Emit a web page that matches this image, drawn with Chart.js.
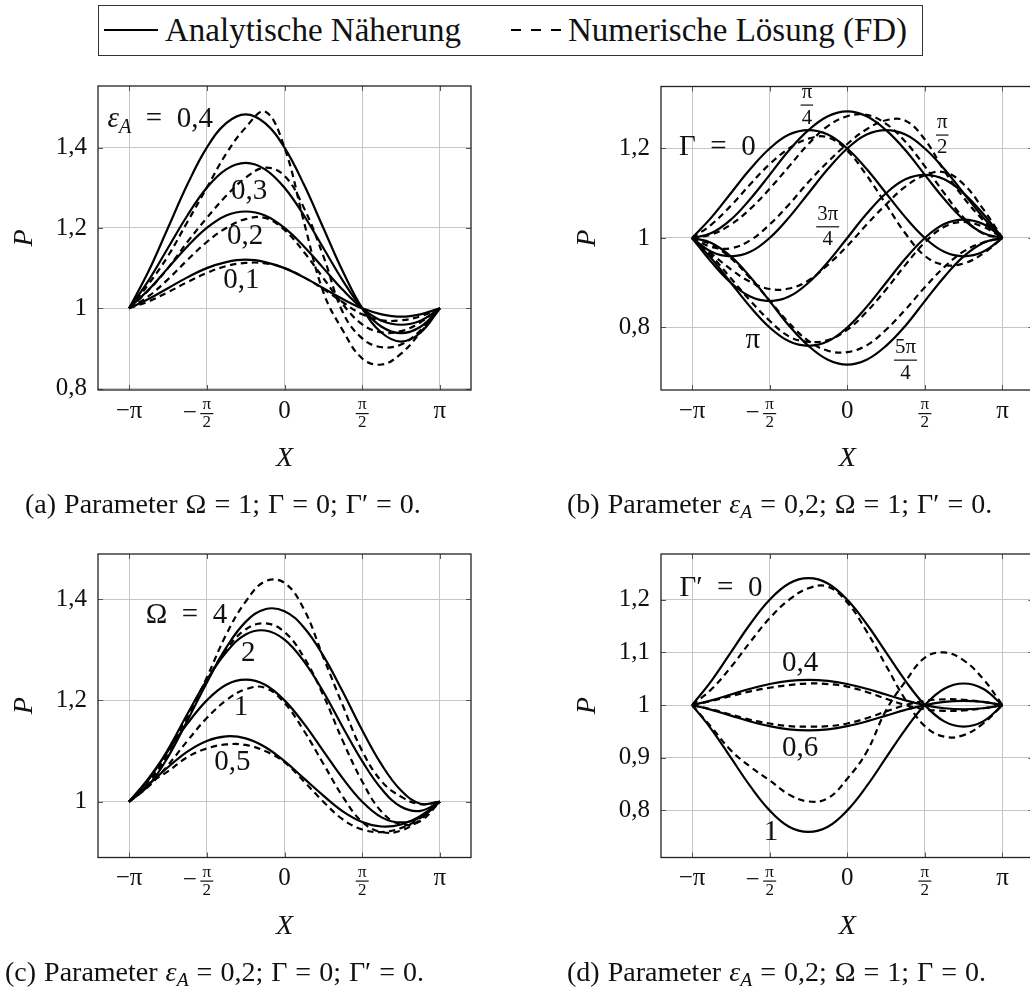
<!DOCTYPE html>
<html><head><meta charset="utf-8">
<title>Druckverteilung P(X)</title>
<script src="https://cdn.jsdelivr.net/npm/chart.js@4.4.1/dist/chart.umd.min.js"></script>
<style>
html,body{margin:0;padding:0;background:#fff;}
#page{position:relative;width:1030px;height:992px;overflow:hidden;font-family:"Liberation Serif","DejaVu Serif",serif;color:#111;}
canvas{position:absolute;}
#legend{position:absolute;left:98px;top:5px;width:825px;height:51px;box-sizing:border-box;border:1.6px solid #333;font-size:33px;white-space:nowrap;}
#legend .it{position:absolute;top:0;height:48px;line-height:48px;}
.smp{position:absolute;top:23px;height:2.4px;}
.cap{position:absolute;font-size:28px;white-space:nowrap;line-height:28px;word-spacing:1px;}
.cap i{font-style:italic;}
.cap sub{font-size:0.7em;vertical-align:-0.25em;line-height:0;}
</style></head>
<body>
<div id="page">
  <div id="legend">
    <div class="smp" style="left:5px;width:54px;background:#000;"></div>
    <div class="it" style="left:66px;">Analytische Näherung</div>
    <div class="smp" style="left:412px;width:50px;background:repeating-linear-gradient(90deg,#000 0 10px,transparent 10px 20px);"></div>
    <div class="it" style="left:469px;">Numerische Lösung (FD)</div>
  </div>
  <canvas id="ca" width="500" height="430" style="left:0px;top:60px;"></canvas>
  <canvas id="cb" width="520" height="430" style="left:540px;top:60px;"></canvas>
  <canvas id="cc" width="500" height="430" style="left:0px;top:528px;"></canvas>
  <canvas id="cd" width="520" height="430" style="left:540px;top:528px;"></canvas>
  <div class="cap" style="left:25px;top:490px;">(a) Parameter Ω = 1; Γ = 0; Γ′ = 0.</div>
  <div class="cap" style="left:567px;top:490px;">(b) Parameter <i>ε</i><sub><i>A</i></sub> = 0,2; Ω = 1; Γ′ = 0.</div>
  <div class="cap" style="left:5px;top:958px;">(c) Parameter <i>ε</i><sub><i>A</i></sub> = 0,2; Γ = 0; Γ′ = 0.</div>
  <div class="cap" style="left:567px;top:958px;">(d) Parameter <i>ε</i><sub><i>A</i></sub> = 0,2; Ω = 1; Γ = 0.</div>
</div>
<script>
// ---------- data (X in units of pi) ----------
const X_PI = [-1, -0.875, -0.75, -0.625, -0.5, -0.375, -0.25, -0.125, 0, 0.125, 0.25, 0.375, 0.5, 0.625, 0.75, 0.875, 1];
const X_TICKS_PI = [-1, -0.5, 0, 0.5, 1];
const X_TICK_LABELS = ['−π', ['π', '2'], '0', ['π', '2'], 'π'];

// (a) eps_A = 0.1 .. 0.4
const aSolid01 = [1, 1.023, 1.05, 1.077, 1.1, 1.115, 1.121, 1.115, 1.1, 1.077, 1.05, 1.023, 1, 0.985, 0.979, 0.985, 1];
const aSolid02 = [1, 1.046, 1.1, 1.154, 1.2, 1.231, 1.241, 1.231, 1.2, 1.154, 1.1, 1.046, 1, 0.969, 0.959, 0.969, 1];
const aSolid03 = [1, 1.069, 1.15, 1.231, 1.3, 1.346, 1.362, 1.346, 1.3, 1.231, 1.15, 1.069, 1, 0.954, 0.938, 0.954, 1];
const aSolid04 = [1, 1.092, 1.2, 1.308, 1.4, 1.461, 1.483, 1.461, 1.4, 1.308, 1.2, 1.092, 1, 0.939, 0.917, 0.939, 1];
const aDash01 = [1, 1.017, 1.04, 1.065, 1.088, 1.105, 1.113, 1.112, 1.1, 1.077, 1.048, 1.015, 0.985, 0.97, 0.97, 0.98, 1];
const aDash02 = [1, 1.03, 1.072, 1.12, 1.165, 1.2, 1.222, 1.225, 1.195, 1.14, 1.075, 1.01, 0.96, 0.94, 0.943, 0.965, 1];
const aDash03 = [1, 1.045, 1.1, 1.165, 1.225, 1.28, 1.325, 1.35, 1.33, 1.25, 1.13, 0.99, 0.925, 0.903, 0.91, 0.945, 1];
const aDash04 = [1, 1.06, 1.13, 1.215, 1.3, 1.385, 1.45, 1.49, 1.4, 1.215, 1.04, 0.945, 0.875, 0.86, 0.887, 0.94, 1];

// (b) Gamma = 0, pi/4, pi/2, 3pi/4, pi, 5pi/4
const bSolidG0 = [1, 1.046, 1.1, 1.154, 1.2, 1.231, 1.241, 1.231, 1.2, 1.154, 1.1, 1.046, 1, 0.969, 0.959, 0.969, 1];
const bSolidG1 = [1, 1.011, 1.041, 1.087, 1.141, 1.196, 1.241, 1.272, 1.283, 1.272, 1.241, 1.196, 1.141, 1.087, 1.041, 1.011, 1];
const bSolidG2 = [1, 0.969, 0.959, 0.969, 1, 1.046, 1.1, 1.154, 1.2, 1.231, 1.241, 1.231, 1.2, 1.154, 1.1, 1.046, 1];
const bSolidG3 = [1, 0.946, 0.9, 0.869, 0.859, 0.869, 0.9, 0.946, 1, 1.054, 1.1, 1.131, 1.141, 1.131, 1.1, 1.054, 1];
const bSolidG4 = [1, 0.954, 0.9, 0.846, 0.8, 0.769, 0.759, 0.769, 0.8, 0.846, 0.9, 0.954, 1, 1.031, 1.041, 1.031, 1];
const bSolidG5 = [1, 0.989, 0.959, 0.913, 0.859, 0.804, 0.759, 0.728, 0.717, 0.728, 0.759, 0.804, 0.859, 0.913, 0.959, 0.989, 1];
const bDashG0 = [1, 1.03, 1.072, 1.12, 1.165, 1.2, 1.222, 1.225, 1.195, 1.14, 1.075, 1.01, 0.96, 0.94, 0.943, 0.965, 1];
const bDashG1 = [1, 1.008, 1.03, 1.065, 1.11, 1.16, 1.21, 1.25, 1.272, 1.275, 1.255, 1.215, 1.16, 1.1, 1.045, 1.01, 1];
const bDashG2 = [1, 0.98, 0.977, 0.995, 1.03, 1.075, 1.125, 1.17, 1.21, 1.243, 1.263, 1.262, 1.22, 1.15, 1.09, 1.04, 1];
const bDashG3 = [1, 0.965, 0.93, 0.902, 0.886, 0.887, 0.905, 0.94, 0.982, 1.03, 1.075, 1.115, 1.14, 1.147, 1.12, 1.065, 1];
const bDashG4 = [1, 0.96, 0.91, 0.86, 0.815, 0.78, 0.768, 0.772, 0.795, 0.835, 0.885, 0.94, 0.99, 1.025, 1.036, 1.025, 1];
const bDashG5 = [1, 0.985, 0.955, 0.91, 0.86, 0.81, 0.77, 0.748, 0.745, 0.76, 0.795, 0.84, 0.89, 0.935, 0.97, 0.99, 1];

// (c) Omega = 0.5, 1, 2, 4
const cSolidW05 = [1, 1.034, 1.068, 1.099, 1.12, 1.129, 1.125, 1.108, 1.08, 1.046, 1.012, 0.981, 0.96, 0.951, 0.955, 0.972, 1];
const cSolidW1 = [1, 1.046, 1.1, 1.154, 1.2, 1.231, 1.241, 1.231, 1.2, 1.154, 1.1, 1.046, 1, 0.969, 0.959, 0.969, 1];
const cSolidW2 = [1, 1.043, 1.103, 1.173, 1.24, 1.295, 1.33, 1.338, 1.32, 1.277, 1.217, 1.147, 1.08, 1.025, 0.99, 0.982, 1];
const cSolidW4 = [1, 1.032, 1.088, 1.16, 1.235, 1.304, 1.355, 1.38, 1.376, 1.344, 1.288, 1.217, 1.141, 1.073, 1.022, 0.996, 1];
const cDashW05 = [1, 1.035, 1.06, 1.088, 1.105, 1.113, 1.112, 1.1, 1.078, 1.04, 1.0, 0.965, 0.945, 0.94, 0.948, 0.968, 1];
const cDashW1 = [1, 1.03, 1.072, 1.12, 1.165, 1.2, 1.222, 1.225, 1.195, 1.14, 1.075, 1.01, 0.96, 0.94, 0.943, 0.965, 1];
const cDashW2 = [1, 1.04, 1.1, 1.17, 1.24, 1.3, 1.34, 1.352, 1.335, 1.285, 1.21, 1.12, 1.04, 0.98, 0.955, 0.962, 1];
const cDashW4 = [1, 1.035, 1.095, 1.165, 1.245, 1.33, 1.395, 1.435, 1.432, 1.38, 1.285, 1.19, 1.1, 1.04, 1.01, 0.995, 1];

// (d) Gamma' = 0, 0.4, 0.6, 1
const dSolidP0 = [1, 1.046, 1.1, 1.154, 1.2, 1.231, 1.241, 1.231, 1.2, 1.154, 1.1, 1.046, 1, 0.969, 0.959, 0.969, 1];
const dSolidP04 = [1, 1.009, 1.02, 1.031, 1.04, 1.046, 1.048, 1.046, 1.04, 1.031, 1.02, 1.009, 1, 0.994, 0.992, 0.994, 1];
const dSolidP06 = [1, 0.991, 0.98, 0.969, 0.96, 0.954, 0.952, 0.954, 0.96, 0.969, 0.98, 0.991, 1, 1.006, 1.008, 1.006, 1];
const dSolidP1 = [1, 0.954, 0.9, 0.846, 0.8, 0.769, 0.759, 0.769, 0.8, 0.846, 0.9, 0.954, 1, 1.031, 1.041, 1.031, 1];
const dDashP0 = [1, 1.03, 1.072, 1.12, 1.165, 1.2, 1.222, 1.225, 1.195, 1.14, 1.075, 1.01, 0.96, 0.94, 0.943, 0.965, 1];
const dDashP04 = [1, 1.008, 1.017, 1.026, 1.033, 1.038, 1.041, 1.04, 1.035, 1.025, 1.012, 1.0, 0.992, 0.989, 0.99, 0.994, 1];
const dDashP06 = [1, 0.992, 0.982, 0.972, 0.965, 0.96, 0.959, 0.96, 0.965, 0.975, 0.988, 1.0, 1.008, 1.011, 1.01, 1.006, 1];
const dDashP1 = [1, 0.958, 0.914, 0.883, 0.857, 0.83, 0.817, 0.823, 0.86, 0.911, 0.99, 1.045, 1.09, 1.1, 1.085, 1.05, 1];

// y ticks
const Y_TICKS_A = [0.8, 1, 1.2, 1.4];   const Y_LABELS_A = ['0,8', '1', '1,2', '1,4'];
const Y_TICKS_B = [0.8, 1, 1.2];        const Y_LABELS_B = ['0,8', '1', '1,2'];
const Y_TICKS_C = [1, 1.2, 1.4];        const Y_LABELS_C = ['1', '1,2', '1,4'];
const Y_TICKS_D = [0.8, 0.9, 1, 1.1, 1.2]; const Y_LABELS_D = ['0,8', '0,9', '1', '1,1', '1,2'];

// curve labels (x in units of pi, y in P)
const NOTES_A = [
  {x: -0.80, y: 1.471, seg: [{t: 'ε', it: 1}, {t: 'A', it: 1, sub: 1}, {t: '\u2002=\u20020,4'}]},
  {x: -0.228, y: 1.292, seg: [{t: '0,3'}]},
  {x: -0.254, y: 1.178, seg: [{t: '0,2'}]},
  {x: -0.277, y: 1.070, seg: [{t: '0,1'}]}
];
const NOTES_B = [
  {x: -0.26, y: 1.297, seg: [{frac: ['π', '4']}]},
  {x: -0.837, y: 1.203, seg: [{t: 'Γ\u2002=\u20020'}]},
  {x: 0.612, y: 1.230, seg: [{frac: ['π', '2']}]},
  {x: -0.126, y: 1.025, seg: [{frac: ['3π', '4']}]},
  {x: -0.608, y: 0.772, seg: [{t: 'π'}]},
  {x: 0.375, y: 0.727, seg: [{frac: ['5π', '4']}]}
];
const NOTES_C = [
  {x: -0.631, y: 1.367, seg: [{t: 'Ω\u2002=\u20024'}]},
  {x: -0.233, y: 1.292, seg: [{t: '2'}]},
  {x: -0.28, y: 1.187, seg: [{t: '1'}]},
  {x: -0.335, y: 1.077, seg: [{t: '0,5'}]}
];
const NOTES_D = [
  {x: -0.814, y: 1.222, seg: [{t: 'Γ′\u2002=\u20020'}]},
  {x: -0.304, y: 1.079, seg: [{t: '0,4'}]},
  {x: -0.304, y: 0.918, seg: [{t: '0,6'}]},
  {x: -0.491, y: 0.759, seg: [{t: '1'}]}
];

// ---------- rendering ----------
const PI = Math.PI;
const FAM = '"Liberation Serif", "DejaVu Serif", serif';
const INK = '#111';

function pts(arr) { return arr.map((v, i) => ({x: X_PI[i] * PI, y: v})); }

function drawRich(ctx, segs, cx, cy, size) {
  const items = segs.map(s => {
    if (s.frac) {
      const fs = size * 0.72;
      ctx.font = fs + 'px ' + FAM;
      const w = Math.max(ctx.measureText(s.frac[0]).width, ctx.measureText(s.frac[1]).width) + 4;
      return {s, w, fs};
    }
    const fs = s.sub ? size * 0.7 : size;
    ctx.font = (s.it ? 'italic ' : '') + fs + 'px ' + FAM;
    return {s, w: ctx.measureText(s.t).width, fs};
  });
  const total = items.reduce((a, b) => a + b.w, 0);
  let x = cx - total / 2;
  ctx.fillStyle = INK; ctx.textBaseline = 'middle';
  for (const it of items) {
    const s = it.s;
    if (s.frac) {
      ctx.font = it.fs + 'px ' + FAM; ctx.textAlign = 'center';
      ctx.fillText(s.frac[0], x + it.w / 2, cy - it.fs * 0.6);
      ctx.fillText(s.frac[1], x + it.w / 2, cy + it.fs * 0.62);
      ctx.fillRect(x + 1, cy - 0.6, it.w - 2, 1.2);
    } else {
      ctx.font = (s.it ? 'italic ' : '') + it.fs + 'px ' + FAM; ctx.textAlign = 'left';
      ctx.fillText(s.t, x, cy + (s.sub ? size * 0.3 : 0));
    }
    x += it.w;
  }
}

const framePlugin = {
  id: 'frame',
  beforeDatasetsDraw(chart) {
    const {ctx, chartArea: a, scales: {x, y}} = chart;
    ctx.save();
    ctx.strokeStyle = '#555'; ctx.lineWidth = 1;
    const L = 5;
    ctx.beginPath();
    x.ticks.forEach(t => { const px = Math.round(x.getPixelForValue(t.value)) + 0.5;
      ctx.moveTo(px, a.bottom); ctx.lineTo(px, a.bottom - L); ctx.moveTo(px, a.top); ctx.lineTo(px, a.top + L); });
    y.ticks.forEach(t => { const py = Math.round(y.getPixelForValue(t.value)) + 0.5;
      ctx.moveTo(a.left, py); ctx.lineTo(a.left + L, py); ctx.moveTo(a.right, py); ctx.lineTo(a.right - L, py); });
    ctx.stroke();
    ctx.restore();
  },
  afterDraw(chart) {
    const {ctx, chartArea: a, scales: {x}} = chart;
    ctx.save();
    ctx.strokeStyle = '#222'; ctx.lineWidth = 1.3;
    ctx.strokeRect(a.left, a.top, a.right - a.left, a.bottom - a.top);
    const pad = x.options.ticks.padding;
    ctx.fillStyle = INK;
    x.ticks.forEach((t, i) => {
      if (!Array.isArray(X_TICK_LABELS[i])) return;
      const px = x.getPixelForValue(t.value);
      const yb = a.bottom + pad + 17;
      ctx.fillRect(px - 6.5, yb, 13, 1.2);
      if (t.value < 0) {
        ctx.font = '25px ' + FAM; ctx.textAlign = 'center'; ctx.textBaseline = 'middle';
        ctx.fillText('−', px - 17, yb);
      }
    });
    ctx.restore();
  }
};

const notesPlugin = {
  id: 'notes',
  afterDatasetsDraw(chart, args, opts) {
    const {ctx, scales: {x, y}} = chart;
    ctx.save();
    (opts.items || []).forEach(n => drawRich(ctx, n.seg, x.getPixelForValue(n.x * PI), y.getPixelForValue(n.y), 29));
    ctx.restore();
  }
};

function makePanel(p) {
  const line = (arr, dashed) => ({
    data: pts(arr), borderColor: '#000', borderWidth: 2.2, pointRadius: 0, tension: 0.4,
    fill: false, borderDash: dashed ? [6.5, 4.5] : [], borderCapStyle: 'butt'
  });
  const datasets = p.solid.map(a => line(a, false)).concat(p.dashed.map(a => line(a, true)));
  new Chart(document.getElementById(p.id), {
    type: 'line',
    data: {datasets},
    options: {
      responsive: false, animation: false, events: [],
      layout: {padding: {left: 0, top: p.padTop, right: p.padRight, bottom: 0}},
      plugins: {legend: {display: false}, tooltip: {enabled: false}, notes: {items: p.notes}},
      scales: {
        x: {
          type: 'linear', min: -1.2 * PI, max: 1.2 * PI,
          afterBuildTicks: s => { s.ticks = X_TICKS_PI.map(v => ({value: v * PI})); },
          afterFit: s => { s.height = p.xH; },
          ticks: {
            autoSkip: false, maxRotation: 0, minRotation: 0, padding: 6, color: INK,
            callback: (v, i) => X_TICK_LABELS[i],
            font: c => Array.isArray(X_TICK_LABELS[c.index]) ? {family: FAM, size: 17, lineHeight: '18px'} : {family: FAM, size: 25}
          },
          grid: {color: '#c6c6c6', lineWidth: 1, drawTicks: false},
          border: {display: false},
          title: {display: true, text: 'X', color: INK, font: {family: FAM, size: 28, style: 'italic'}, padding: {top: 0, bottom: 15}}
        },
        y: {
          type: 'linear', min: p.yMin, max: p.yMax,
          afterBuildTicks: s => { s.ticks = p.yTicks.map(v => ({value: v})); },
          afterFit: s => { s.width = p.yW; },
          ticks: {
            padding: 11, color: INK, font: {family: FAM, size: 25},
            callback: (v, i) => p.yLabels[i]
          },
          grid: {color: '#c6c6c6', lineWidth: 1, drawTicks: false},
          border: {display: false},
          title: {display: true, text: 'P', color: INK, font: {family: FAM, size: 28, style: 'italic'}, padding: {top: p.yTitlePad, bottom: 0}}
        }
      }
    },
    plugins: [framePlugin, notesPlugin]
  });
}

makePanel({id: 'ca', yW: 98, padTop: 26, padRight: 29, xH: 100, yMin: 0.7965, yMax: 1.5535,
  yTicks: Y_TICKS_A, yLabels: Y_LABELS_A, yTitlePad: 8,
  solid: [aSolid01, aSolid02, aSolid03, aSolid04], dashed: [aDash01, aDash02, aDash03, aDash04], notes: NOTES_A});
makePanel({id: 'cb', yW: 121, padTop: 26.5, padRight: 26.5, xH: 100, yMin: 0.6603, yMax: 1.3385,
  yTicks: Y_TICKS_B, yLabels: Y_LABELS_B, yTitlePad: 31,
  solid: [bSolidG0, bSolidG1, bSolidG2, bSolidG3, bSolidG4, bSolidG5],
  dashed: [bDashG0, bDashG1, bDashG2, bDashG3, bDashG4, bDashG5], notes: NOTES_B});
makePanel({id: 'cc', yW: 98, padTop: 26, padRight: 29, xH: 100.5, yMin: 0.8898, yMax: 1.489,
  yTicks: Y_TICKS_C, yLabels: Y_LABELS_C, yTitlePad: 8,
  solid: [cSolidW05, cSolidW1, cSolidW2, cSolidW4], dashed: [cDashW05, cDashW1, cDashW2, cDashW4], notes: NOTES_C});
makePanel({id: 'cd', yW: 121, padTop: 26, padRight: 26.5, xH: 100.5, yMin: 0.7105, yMax: 1.287,
  yTicks: Y_TICKS_D, yLabels: Y_LABELS_D, yTitlePad: 31,
  solid: [dSolidP0, dSolidP04, dSolidP06, dSolidP1], dashed: [dDashP0, dDashP04, dDashP06, dDashP1], notes: NOTES_D});
</script>
</body></html>
